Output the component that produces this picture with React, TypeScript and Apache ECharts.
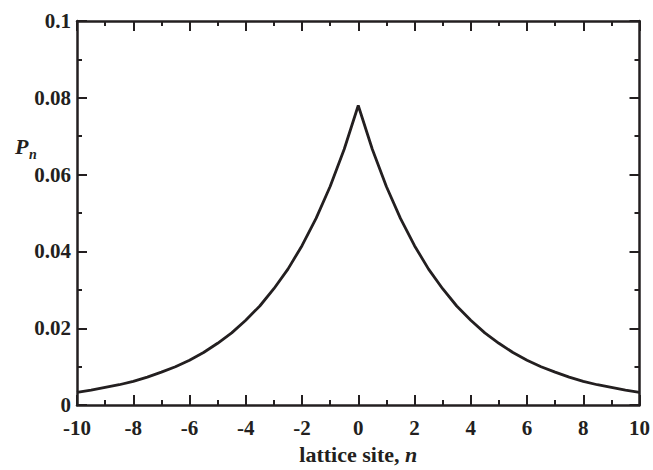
import React, { useEffect, useRef } from "react";
import * as echarts from "echarts";

const sites: number[] = [
  -10, -9.5, -9, -8.5, -8, -7.5, -7, -6.5, -6, -5.5, -5, -4.5, -4, -3.5, -3, -2.5, -2, -1.5, -1, -0.5,
  0, 0.5, 1, 1.5, 2, 2.5, 3, 3.5, 4, 4.5, 5, 5.5, 6, 6.5, 7, 7.5, 8, 8.5, 9, 9.5, 10,
];
const probabilities: number[] = [
  0.0033, 0.0039, 0.0046, 0.0053, 0.0062, 0.0073, 0.0086, 0.01, 0.0117, 0.0137, 0.0161, 0.0188, 0.0221,
  0.0258, 0.0303, 0.0354, 0.0415, 0.0486, 0.0569, 0.0666, 0.078, 0.0666, 0.0569, 0.0486, 0.0415, 0.0354,
  0.0303, 0.0258, 0.0221, 0.0188, 0.0161, 0.0137, 0.0117, 0.01, 0.0086, 0.0073, 0.0062, 0.0053, 0.0046,
  0.0039, 0.0033,
];

const INK = "#231f20";
const FONT = "'Liberation Serif', 'Times New Roman', serif";

export default function App() {
  const ref = useRef<HTMLDivElement>(null);
  useEffect(() => {
    document.body.style.margin = "0";
    if (!ref.current) return;
    const chart = echarts.init(ref.current, undefined, { renderer: "svg" });
    const axisLine = { show: true, onZero: false, lineStyle: { color: INK, width: 2.5 } };
    const tick = { show: true, inside: true, length: 10, lineStyle: { color: INK, width: 2 } };
    const minor = { show: true, splitNumber: 2, length: 5, lineStyle: { color: INK, width: 2 } };
    const label = { color: INK, fontFamily: FONT, fontWeight: "bold" as const, fontSize: 21, lineHeight: 19 };
    const titleFont = { color: INK, fontFamily: FONT, fontWeight: "bold" as const, fontSize: 22 };
    chart.setOption({
      animation: false,
      backgroundColor: "#ffffff",
      grid: { left: 77, right: 13, top: 21, bottom: 57, containLabel: false },
      xAxis: [
        {
          type: "value",
          min: -10,
          max: 10,
          interval: 2,
          position: "bottom",
          axisLine,
          axisTick: tick,
          minorTick: minor,
          splitLine: { show: false },
          axisLabel: { ...label, margin: 13 },
          name: "{a|lattice site, }{b|n}",
          nameLocation: "middle",
          nameGap: 36,
          nameTextStyle: {
            rich: {
              a: { ...titleFont },
              b: { ...titleFont, fontStyle: "italic" },
            },
          },
        },
        {
          type: "value",
          min: -10,
          max: 10,
          interval: 2,
          position: "top",
          axisLine,
          axisTick: tick,
          minorTick: minor,
          splitLine: { show: false },
          axisLabel: { show: false },
        },
      ],
      yAxis: [
        {
          type: "value",
          min: 0,
          max: 0.1,
          interval: 0.02,
          position: "left",
          axisLine,
          axisTick: tick,
          minorTick: minor,
          splitLine: { show: false },
          axisLabel: { ...label, margin: 6 },
        },
        {
          type: "value",
          min: 0,
          max: 0.1,
          interval: 0.02,
          position: "right",
          axisLine,
          axisTick: tick,
          minorTick: minor,
          splitLine: { show: false },
          axisLabel: { show: false },
        },
      ],
      graphic: [
        {
          type: "text",
          left: 15,
          top: 135,
          style: { text: "P", font: `italic bold 22px ${FONT}`, fill: INK },
        },
        {
          type: "text",
          left: 29,
          top: 147,
          style: { text: "n", font: `italic bold 14px ${FONT}`, fill: INK },
        },
      ],
      series: [
        {
          type: "line",
          data: sites.map((n, i) => [n, probabilities[i]]),
          showSymbol: false,
          smooth: false,
          lineStyle: { color: INK, width: 2.8 },
        },
      ],
    });
    return () => chart.dispose();
  }, []);
  return <div ref={ref} style={{ width: 653, height: 470 }} />;
}
